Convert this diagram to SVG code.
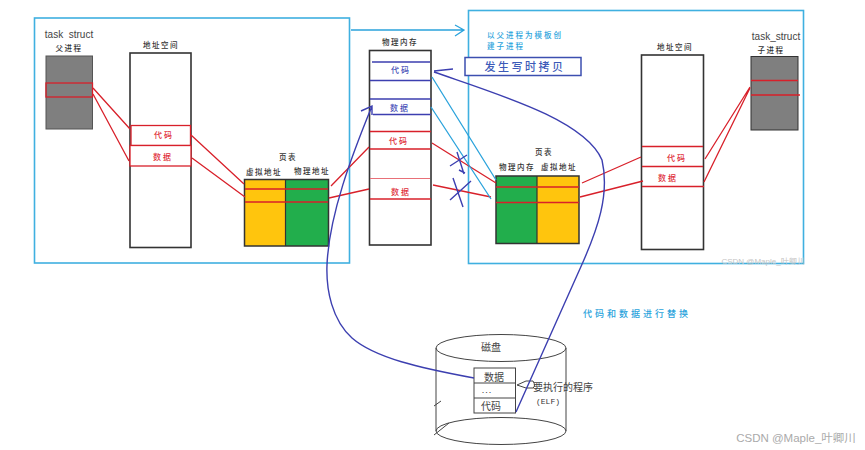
<svg xmlns="http://www.w3.org/2000/svg" width="865" height="450" viewBox="0 0 865 450">
<style>
text{font-family:"Noto Sans CJK SC","Liberation Sans",sans-serif;text-anchor:middle}
.k{font-size:7.500px;fill:#333;font-weight:500;letter-spacing:1.500px}
.r{font-size:8px;fill:#e0303a;font-weight:500;letter-spacing:2px}
.b{font-size:8px;fill:#4a52b8;font-weight:500;letter-spacing:2px}
.c{font-size:7.500px;fill:#2ba3dc;font-weight:500;letter-spacing:2px}
.e{font-size:10px;fill:#444;font-family:"Liberation Sans",sans-serif}
.d{font-size:10px;fill:#444}
.box{fill:#fff;stroke:#333;stroke-width:1.600}
.frame{fill:none;stroke:#3fb0e0;stroke-width:1.600}
.red{fill:none;stroke:#d8202a;stroke-width:1.300}
.navy{fill:none;stroke:#3c3fb0;stroke-width:1.400}
.sky{fill:none;stroke:#2ba3dc;stroke-width:1.300}
.ink{fill:none;stroke:#444;stroke-width:1}
</style>
<rect width="865" height="450" fill="#fff"/>

<g id="parent-frame"><rect class="frame" x="34.500" y="18" width="315" height="245"/></g>
<g id="child-frame"><rect class="frame" x="468.500" y="10.500" width="335" height="253"/></g>

<g id="parent-task">
<text class="e" x="69" y="38" xml:space="preserve">task  struct</text>
<text class="k" x="69" y="51">父进程</text>
<rect x="46" y="56" width="46.500" height="73" fill="#7f7f7f" stroke="#555"/>
<rect x="46" y="83" width="46.500" height="14" fill="none" stroke="#d8202a" stroke-width="1.300"/>
</g>

<g id="parent-space">
<text class="k" x="161" y="48">地址空间</text>
<rect class="box" x="130" y="53" width="61" height="194.500"/>
<rect x="131" y="125.500" width="59.500" height="20" fill="#fff" stroke="#d8202a" stroke-width="1.300"/>
<rect x="130" y="145.500" width="61" height="20.500" fill="#fff" stroke="#d8202a" stroke-width="1.300"/>
<text class="r" x="164" y="138">代码</text>
<text class="r" x="163" y="160">数据</text>
</g>

<g id="parent-table">
<text class="k" x="288" y="160">页表</text>
<text class="k" x="264" y="175">虚拟地址</text>
<text class="k" x="312" y="174">物理地址</text>
<rect x="245" y="179.500" width="40.500" height="66.500" fill="#ffc50d"/>
<rect x="285.500" y="179.500" width="43" height="66.500" fill="#22ae4c"/>
<rect x="244.500" y="179.500" width="84" height="66.500" fill="none" stroke="#333" stroke-width="1.500"/>
<path d="M285.500 179.500V246" stroke="#333" stroke-width="1.200"/>
<path class="red" d="M245 189H328M245 202H328"/>
</g>

<g id="memory">
<text class="k" x="400" y="45">物理内存</text>
<rect class="box" x="369.500" y="50.500" width="61.500" height="194.500"/>
<path class="navy" d="M372 62H430M370 80.500H431M370 99H431M373 114.500H431"/>
<text class="b" x="401" y="73">代码</text>
<text class="b" x="400" y="111">数据</text>
<path class="red" d="M370 131.500H431M370 149H431"/>
<path d="M370 178.500H430" stroke="#e87078" stroke-width="1"/>
<path class="red" d="M370 199H431"/>
<text class="r" x="399" y="144">代码</text>
<text class="r" x="401" y="195">数据</text>
</g>

<g id="copy-note">
<text class="c" x="525" y="38">以父进程为模板创</text>
<text class="c" x="506" y="49">建子进程</text>
<rect x="465" y="57.500" width="116" height="18" fill="#fff" stroke="#3c4fb0" stroke-width="1.500"/>
<text x="525" y="70.500" style="font-size:11px;fill:#3c5ab8;font-weight:500;letter-spacing:2.500px">发生写时拷贝</text>
</g>

<g id="child-table">
<text class="k" x="544" y="155">页表</text>
<text class="k" x="517" y="170">物理内存</text>
<text class="k" x="559" y="170">虚拟地址</text>
<rect x="496" y="176" width="41" height="67.500" fill="#22ae4c"/>
<rect x="537" y="176" width="42" height="67.500" fill="#ffc50d"/>
<rect x="496" y="176" width="83" height="67.500" fill="none" stroke="#333" stroke-width="1.500"/>
<path d="M537 176V243.500" stroke="#333" stroke-width="1.200"/>
<path class="red" d="M496 187H579M496 202.500H579"/>
</g>

<g id="child-space">
<text class="k" x="675" y="50">地址空间</text>
<rect class="box" x="641.500" y="55" width="62" height="194.500"/>
<path class="red" d="M642 146.500H703M642 166.500H703M642 186.500H704"/>
<text class="r" x="677" y="161">代码</text>
<text class="r" x="668" y="181">数据</text>
</g>

<g id="child-task">
<text class="e" x="776" y="40">task_struct</text>
<text class="k" x="771" y="53">子进程</text>
<rect x="751" y="56.500" width="47" height="73.500" fill="#7f7f7f" stroke="#333"/>
<path class="red" d="M751 80.500H798M751 95H800"/>
</g>

<g id="disk">
<ellipse class="ink" cx="501" cy="348" rx="65" ry="13.500"/>
<ellipse class="ink" cx="501" cy="431" rx="65" ry="13.500"/>
<path class="ink" d="M436 348V431M566 348V431"/>
<path class="ink" stroke-width="1.300" d="M434 406L441 401M434 435L449 423"/>
<text class="d" x="491" y="351">磁盘</text>
<rect x="474" y="368" width="41.500" height="45" fill="#fff" stroke="#444"/>
<path class="ink" d="M474 383H515.500M474 398H515.500"/>
<text class="d" x="494" y="381">数据</text>
<text x="487" y="393" style="font-size:9px;fill:#333;font-family:'Liberation Sans',sans-serif;letter-spacing:1px">...</text>
<text class="d" x="491" y="410">代码</text>
<path class="ink" d="M517 385L526 381H533C535 384 535 387 533 388H526Z"/>
<text class="d" x="563" y="391">要执行的程序</text>
<text x="548" y="404" style="font-size:8px;fill:#333;font-family:'Liberation Mono',monospace">(ELF)</text>
</g>

<g id="swap-note"><text class="c" x="637" y="317" style="font-size:9px;letter-spacing:3px">代码和数据进行替换</text></g>

<g id="connectors">
<path class="red" d="M93 88L130 129M93 94L129 161M191 135L244 184M192 158L245 197M331 186L369 147M329 198L369 189"/>
<path class="red" d="M432 143L496 183M433 185L491 197"/>
<path class="red" d="M582 183L641 157M580 197L643 181M705 159L750 87M704 182L750 88"/>
<path class="sky" d="M432 77L496 180M431 107L491 199"/>
<path class="navy" d="M459 170L465 173M457 152L464 174M450 166L467 155M453 178L463 207M450 200L471 181"/>
<path class="navy" d="M474 378C420 368 375 358 352 338C332 320 326 290 327 265C329 215 352 155 372 106M361 111L372 106L372 115"/>
<path class="navy" d="M516 412L583 262C597 230 610 195 602 160C585 120 500 95 434 72M434 71L453 69"/>
<path class="sky" stroke-width="1.500" d="M351 30H463M455 25L464 30L455 36"/>
</g>

<g id="credits">
<text x="763" y="264" style="font-size:8px;fill:#c4c4c4;font-family:'Liberation Sans',sans-serif">CSDN @Maple_叶卿川</text>
<text x="796" y="442" style="font-size:11.500px;fill:#aaa;font-family:'Liberation Sans','Noto Sans CJK SC',sans-serif">CSDN @Maple_叶卿川</text>
</g>
</svg>
